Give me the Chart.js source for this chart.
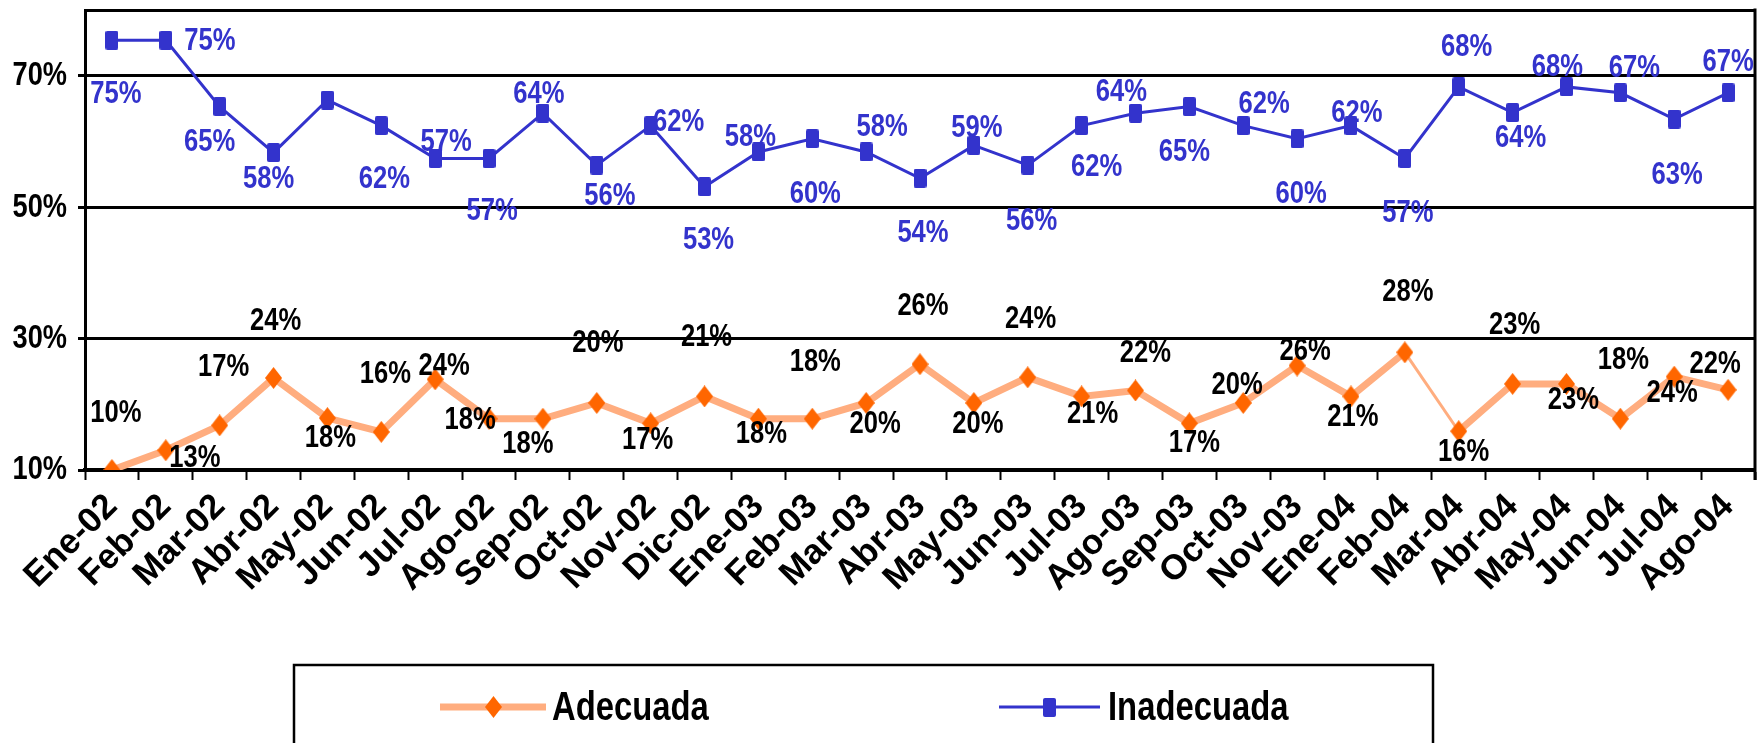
<!DOCTYPE html>
<html>
<head>
<meta charset="utf-8">
<script src="https://cdn.jsdelivr.net/npm/chart.js@4.4.1/dist/chart.umd.min.js"></script>
<style>
  html, body { margin: 0; padding: 0; background: #ffffff; }
  #wrap { width: 1762px; height: 743px; position: relative; }
</style>
</head>
<body>
<div id="wrap"><canvas id="c" width="1762" height="743"></canvas></div>
<script>
// ---------- DATA ----------
const categories = ['Ene-02','Feb-02','Mar-02','Abr-02','May-02','Jun-02','Jul-02','Ago-02','Sep-02','Oct-02','Nov-02','Dic-02',
  'Ene-03','Feb-03','Mar-03','Abr-03','May-03','Jun-03','Jul-03','Ago-03','Sep-03','Oct-03','Nov-03',
  'Ene-04','Feb-04','Mar-04','Abr-04','May-04','Jun-04','Jul-04','Ago-04'];
const adecuada = [10.0,13.0,16.8,24.0,17.9,15.8,23.8,17.8,17.8,20.2,17.1,21.2,
  17.8,17.8,20.2,26.1,20.2,24.1,21.2,22.1,17.1,20.2,25.9,
  21.2,27.9,15.9,23.1,23.1,17.8,24.2,22.2];
const inadecuada = [75.4,75.4,65.3,58.3,66.3,62.4,57.4,57.4,64.3,56.4,62.4,53.1,
  58.4,60.4,58.4,54.4,59.4,56.4,62.4,64.3,65.3,62.4,60.4,
  62.4,57.4,68.3,64.4,68.3,67.4,63.4,67.4];
const seriesNames = ['Adecuada','Inadecuada'];
const yTicks = [10,30,50,70];
const yMin = 10, yMax = 80;

// ---------- STYLE (label offsets relative to each point, px) ----------
const adecuadaLabelOffsets = [[4,-57],[29,8],[4,-58],[2,-57],[3,20],[4,-58],[9,-13],[-19,1],[-15,25],[1,-60],[-3,17],[2,-59],
  [3,15],[3,-57],[9,21],[3,-58],[4,21],[3,-58],[11,18],[10,-37],[5,20],[-6,-18],[8,-14],
  [2,21],[3,-60],[5,21],[2,-59],[7,16],[3,-59],[-2,16],[-13,-26]];
const inadecuadaLabelOffsets = [[4,54],[44,1],[-10,36],[-5,27],null,[3,54],[11,-16],[3,53],[-4,-19],[13,31],[28,-3],[4,53],
  [-8,-15],[3,55],[16,-25],[3,55],[3,-17],[4,56],[15,42],[-14,-21],[-5,46],[21,-21],[4,55],
  [6,-12],[3,55],[8,-40],[8,26],[-9,-20],[14,-25],[3,56],[0,-31]];

// condensed bold face (the reference text is horizontally condensed)
const FONT = "'Liberation Sans Narrow', 'Liberation Sans', Arial, sans-serif";
const FONT_WIDE = "'Liberation Sans', Arial, sans-serif";
const NARROW = 0.8;
(function () {
  const P = CanvasRenderingContext2D.prototype;
  const orig = P.fillText;
  P.fillText = function (text, x, y, maxWidth) {
    if (String(this.font).indexOf('Narrow') >= 0) {
      this.save();
      this.translate(x, y);
      this.scale(NARROW, 1);
      orig.call(this, text, 0, 0);
      this.restore();
    } else {
      if (maxWidth === undefined) orig.call(this, text, x, y);
      else orig.call(this, text, x, y, maxWidth);
    }
  };
})();

const ORANGE_LINE = '#FFAD7F';
const ORANGE_MARK = '#FF6600';
const BLUE = '#3333CC';

function makeDiamond(w, h, color) {
  const c = document.createElement('canvas'); c.width = w; c.height = h;
  const g = c.getContext('2d'); g.fillStyle = color;
  g.beginPath(); g.moveTo(w/2, 0); g.lineTo(w, h/2); g.lineTo(w/2, h); g.lineTo(0, h/2); g.closePath(); g.fill();
  return c;
}
function makeSquare(w, h, color) {
  const c = document.createElement('canvas'); c.width = w; c.height = h;
  const g = c.getContext('2d'); g.fillStyle = color;
  const r = 2;
  g.beginPath();
  g.moveTo(r,0); g.lineTo(w-r,0); g.quadraticCurveTo(w,0,w,r); g.lineTo(w,h-r); g.quadraticCurveTo(w,h,w-r,h);
  g.lineTo(r,h); g.quadraticCurveTo(0,h,0,h-r); g.lineTo(0,r); g.quadraticCurveTo(0,0,r,0); g.closePath(); g.fill();
  return c;
}
const diamondImg = makeDiamond(17, 22, ORANGE_MARK);
const squareImg = makeSquare(13, 19, BLUE);

// data labels
const dataLabelPlugin = {
  id: 'dataLabels',
  afterDatasetsDraw(chart) {
    const ctx = chart.ctx;
    chart.data.datasets.forEach((ds, di) => {
      const meta = chart.getDatasetMeta(di);
      ctx.save();
      ctx.font = 'bold 32px ' + FONT;
      ctx.fillStyle = ds.labelColor;
      ctx.textAlign = 'center';
      ctx.textBaseline = 'middle';
      meta.data.forEach((pt, i) => {
        const off = ds.labelOffsets[i];
        if (!off) return;
        ctx.fillText(Math.round(ds.data[i]) + '%', pt.x + off[0], pt.y + off[1]);
      });
      ctx.restore();
    });
  }
};

// plot border (right side) + legend box
const framePlugin = {
  id: 'frame',
  afterDraw(chart) {
    const ctx = chart.ctx;
    const a = chart.chartArea;
    ctx.save();
    ctx.strokeStyle = '#000';
    ctx.lineWidth = 3;
    ctx.beginPath(); ctx.moveTo(a.right, a.top - 1.5); ctx.lineTo(a.right, a.bottom + 10); ctx.stroke();

    // legend
    ctx.lineWidth = 2.5;
    ctx.strokeRect(294, 665, 1139, 120);
    const items = [
      { x0: 440, x1: 546, tx: 552, ds: chart.data.datasets[0] },
      { x0: 999, x1: 1100, tx: 1108, ds: chart.data.datasets[1] }
    ];
    items.forEach(it => {
      ctx.strokeStyle = it.ds.borderColor;
      ctx.lineWidth = it.ds.borderWidth;
      ctx.beginPath(); ctx.moveTo(it.x0, 707); ctx.lineTo(it.x1, 707); ctx.stroke();
      const img = it.ds.pointStyle;
      ctx.drawImage(img, Math.round((it.x0 + it.x1) / 2 - img.width / 2), Math.round(707 - img.height / 2));
      ctx.fillStyle = '#000';
      ctx.font = 'bold 41px ' + FONT;
      ctx.textAlign = 'left';
      ctx.textBaseline = 'alphabetic';
      ctx.fillText(it.ds.label, it.tx, 720);
    });
    ctx.restore();
  }
};

new Chart(document.getElementById('c'), {
  type: 'line',
  data: {
    labels: categories,
    datasets: [
      {
        label: seriesNames[0],
        data: adecuada,
        borderColor: ORANGE_LINE,
        borderWidth: 7,
        pointStyle: diamondImg,
        pointRadius: 9,
        pointHoverRadius: 9,
        pointBorderWidth: 0,
        tension: 0,
        labelColor: '#000000',
        labelOffsets: adecuadaLabelOffsets,
        segment: {
          borderWidth: c => (c.p0DataIndex === 24 ? 3 : 7)
        }
      },
      {
        label: seriesNames[1],
        data: inadecuada,
        borderColor: BLUE,
        borderWidth: 3,
        pointStyle: squareImg,
        pointRadius: 9,
        pointHoverRadius: 9,
        pointBorderWidth: 0,
        tension: 0,
        labelColor: BLUE,
        labelOffsets: inadecuadaLabelOffsets
      }
    ]
  },
  options: {
    responsive: false,
    animation: false,
    devicePixelRatio: 1,
    layout: { autoPadding: false, padding: { top: 10, right: 7, left: 0, bottom: 0 } },
    plugins: { legend: { display: false }, tooltip: { enabled: false } },
    scales: {
      x: {
        offset: true,
        grid: { offset: true, drawOnChartArea: false, drawTicks: true, tickLength: 10, tickWidth: 2, tickColor: '#000' },
        border: { display: true, color: '#000', width: 4 },
        ticks: {
          autoSkip: false, minRotation: 45, maxRotation: 45, padding: 6,
          color: '#000', font: { family: FONT_WIDE, size: 35, weight: 'bold' }
        },
        afterFit: s => { s.height = 273; s.paddingRight = 0; s.paddingLeft = 0; }
      },
      y: {
        min: yMin, max: yMax,
        afterBuildTicks: s => { s.ticks = yTicks.concat([yMax]).map(v => ({ value: v })); },
        grid: {
          color: '#000', lineWidth: 3, drawTicks: true, tickLength: 7,
          tickColor: c => (c.tick && c.tick.value === yMax ? 'rgba(0,0,0,0)' : '#000'), tickWidth: 3
        },
        border: { display: true, color: '#000', width: 3 },
        ticks: {
          padding: 11, color: '#000',
          font: { family: FONT, size: 34, weight: 'bold' },
          callback: v => (yTicks.includes(v) ? v + '%' : '')
        },
        afterFit: s => { s.width = 85; s.paddingTop = 0; s.paddingBottom = 0; }
      }
    }
  },
  plugins: [dataLabelPlugin, framePlugin]
});
</script>
</body>
</html>
